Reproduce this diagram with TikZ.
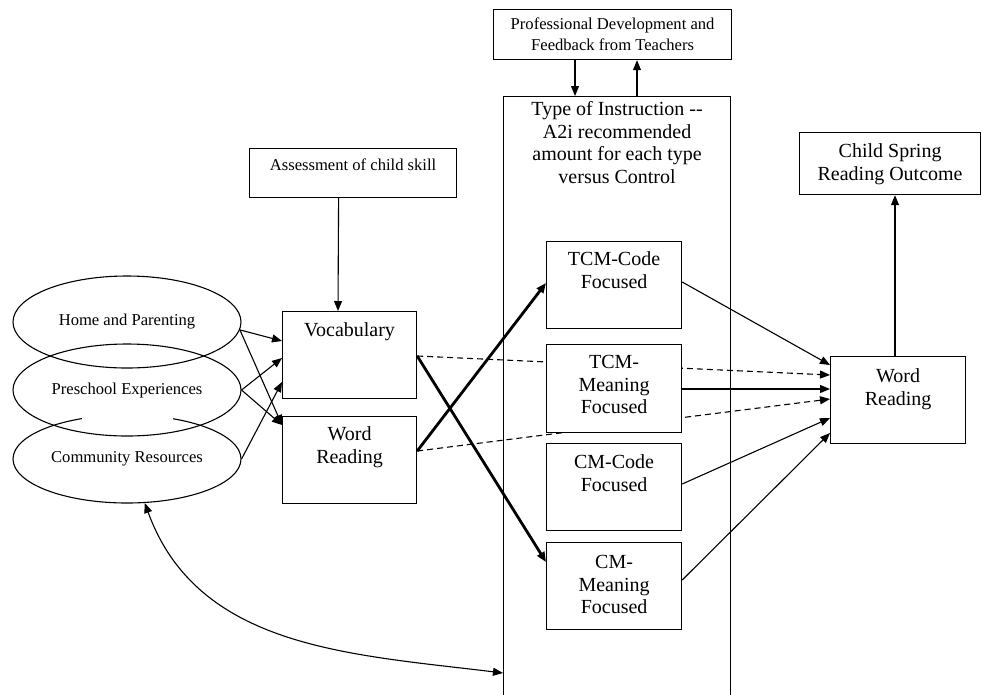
\documentclass[tikz,border=0pt]{standalone}
\usepackage{fontspec}
\setmainfont{Liberation Serif}
\usetikzlibrary{arrows.meta,positioning,shapes.geometric,backgrounds}

\newcommand{\bigtext}{\fontsize{20}{22.5}\selectfont}
\newcommand{\smalltext}{\fontsize{16.6}{21}\selectfont}
% text hangs from the top edge of a box: width, height, first baseline, text
\newcommand{\toptext}[4]{\parbox[c][#2][t]{#1}{\centering\rule{0pt}{#3}#4}}

\begin{document}
\begin{tikzpicture}[
  x=1pt, y=-1pt,
  box/.style={draw, fill=white, line width=1.2pt, inner sep=0pt, anchor=north west, font=\bigtext},
  oval/.style={draw, ellipse, line width=1.1pt, inner sep=0pt, minimum width=228pt, font=\smalltext},
  arrow/.style={-{Triangle[length=10pt,width=8pt]}, line width=1.1pt},
  thickarrow/.style={arrow, line width=2.8pt},
  dasharrow/.style={arrow, dash pattern=on 6pt off 4pt},
  twoway/.style={{Triangle[length=10pt,width=8pt]}-{Triangle[length=10pt,width=8pt]}, line width=1.1pt}
]
\useasboundingbox (0,0) rectangle (982,694);

% context of the child
\node[oval, minimum height=88pt] (community) at (127,459) {Community Resources};
\fill[white] (82,402) rectangle (173,423); % gap in its upper arc
\node[oval, minimum height=92pt] (home) at (127,322) {Home and Parenting};
\node[oval, minimum height=92pt] (preschool) at (127,390) {Preschool Experiences};

% child skills
\node[box, font=\smalltext] (assess) at (249,148) {\toptext{207pt}{49pt}{22pt}{Assessment of child skill}};
\node[box] (vocab) at (282,311) {\toptext{134pt}{87pt}{25pt}{Vocabulary}};
\node[box] (wordl) at (282,416) {\toptext{134pt}{87pt}{24pt}{Word\\Reading}};

% instruction
\node[box, font=\smalltext] (prof) at (493,9) {\toptext{238pt}{50pt}{20pt}{Professional Development and\\Feedback from Teachers}};
\node[box, fill=none] (instr) at (503,96) {\toptext{227pt}{610pt}{19pt}{Type of Instruction -{}-\\A2i recommended\\amount for each type\\versus Control}};
\node[box] (tcmc) at (546,241) {\toptext{135pt}{87pt}{24pt}{TCM-Code\\Focused}};
\node[box] (tcmm) at (546,344) {\toptext{135pt}{88pt}{24pt}{TCM-\\Meaning\\Focused}};
\node[box] (cmc) at (546,443) {\toptext{135pt}{87pt}{25pt}{CM-Code\\Focused}};
\node[box] (cmm) at (546,542) {\toptext{135pt}{87pt}{26pt}{CM-\\Meaning\\Focused}};

% outcome
\node[box] (wordr) at (830,356) {\toptext{135pt}{87pt}{26pt}{Word\\Reading}};
\node[box] (child) at (799,132) {\toptext{181pt}{62pt}{25pt}{Child Spring\\Reading Outcome}};

% context to skills
\draw[arrow] (home.-4) -- ([yshift=-30pt]vocab.north west);
\draw[arrow] (home.-4) -- ([yshift=-9pt]wordl.north west);
\draw[arrow] (preschool.east) -- ([yshift=-47pt]vocab.north west);
\draw[arrow] (preschool.east) -- ([yshift=-9pt]wordl.north west);
\draw[arrow] (community.east) -- ([yshift=-71pt]vocab.north west);
\draw[arrow] ([xshift=-14.5pt]assess.south) -- ([xshift=56pt]vocab.north west);

% feedback loop
\draw[arrow] ([xshift=82pt]prof.south west) -- ([xshift=72pt]instr.north west);
\draw[arrow] ([xshift=134pt]instr.north west) -- ([xshift=144pt]prof.south west);

% skills to instruction
\draw[thickarrow] ([yshift=-35pt]wordl.north east) -- ([yshift=-42pt]tcmc.north west);
\draw[thickarrow] ([yshift=-45pt]vocab.north east) -- ([yshift=-20pt]cmm.north west);
\begin{scope}[on background layer]
\draw[dasharrow] ([yshift=-45pt]vocab.north east) -- ([yshift=-19pt]wordr.north west);
\draw[dasharrow] ([yshift=-35pt]wordl.north east) -- ([yshift=-43pt]wordr.north west);
\end{scope}

% instruction to outcome
\draw[arrow] ([yshift=-41pt]tcmc.north east) -- ([yshift=-9pt]wordr.north west);
\draw[arrow] ([yshift=-45pt]tcmm.north east) -- ([yshift=-33pt]wordr.north west);
\draw[arrow] ([yshift=-41pt]cmc.north east) -- ([yshift=-62pt]wordr.north west);
\draw[arrow] ([yshift=-38pt]cmm.north east) -- ([yshift=-77pt]wordr.north west);
\draw[arrow] ([xshift=65pt]wordr.north west) -- ([xshift=96pt]child.south west);

\draw[twoway] (community.-68) to[out=-70, in=173] ([yshift=-577pt]instr.north west);
\end{tikzpicture}
\end{document}
